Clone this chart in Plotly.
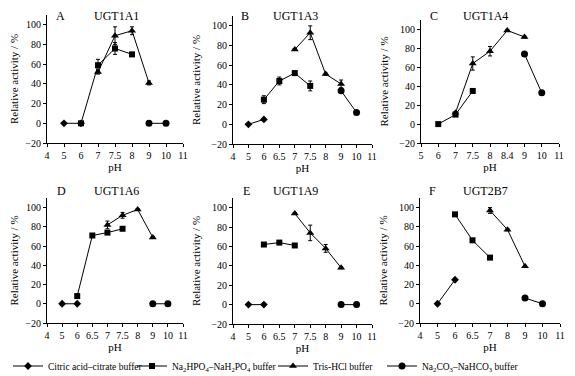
import plotly.graph_objects as go

# page is 575x376; the plot div sits at the page's default 8px body margin
PAGE_W, PAGE_H = 575, 376
OFF = 8
W, H = PAGE_W - OFF, PAGE_H - OFF

# ---------------- data ----------------
# categories (pH tick labels) per panel
cats_A = ["4", "5", "6", "7", "7.5", "8", "9", "10", "11"]
cats_B = ["4", "5", "6", "6.5", "7", "7.5", "8", "9", "10", "11"]
cats_C = ["5", "6", "7", "7.5", "8", "8.4", "9", "10", "11"]
cats_D = ["4", "5", "6", "6.5", "7", "7.5", "8", "9", "10", "11"]
cats_E = ["4", "5", "6", "6.5", "7", "7.5", "8", "9", "10", "11"]
cats_F = ["4", "5", "6", "6.5", "7", "8", "9", "10", "11"]

# UGT1A1
A_cit_x, A_cit_y = ["5", "6"], [0, 0]
A_pho_x, A_pho_y, A_pho_e = ["6", "7", "7.5", "8"], [0, 59, 76, 70], [0, 6, 6, 2]
A_tri_x, A_tri_y, A_tri_e = ["7", "7.5", "8", "9"], [52, 89, 94, 41], [2, 9, 4, 2]
A_car_x, A_car_y = ["9", "10"], [0, 0]
# UGT1A3
B_cit_x, B_cit_y = ["5", "6"], [0, 5]
B_pho_x, B_pho_y, B_pho_e = ["6", "6.5", "7", "7.5"], [25, 44, 52, 39], [4, 4, 2, 5]
B_tri_x, B_tri_y, B_tri_e = ["7", "7.5", "8", "9"], [76, 93, 51, 41], [1, 7, 1, 4]
B_car_x, B_car_y = ["9", "10"], [34, 12]
# UGT1A4
C_pho_x, C_pho_y, C_pho_e = ["6", "7", "7.5"], [0, 10, 35], [1, 1, 1]
C_tri_x, C_tri_y, C_tri_e = ["7", "7.5", "8", "8.4", "9"], [12, 64, 77, 99, 92], [1, 7, 5, 1, 1]
C_car_x, C_car_y = ["9", "10"], [74, 33]
# UGT1A6
D_cit_x, D_cit_y = ["5", "6"], [0, 0]
D_pho_x, D_pho_y, D_pho_e = ["6", "6.5", "7", "7.5"], [8, 71, 74, 78], [1, 1, 2, 1]
D_tri_x, D_tri_y, D_tri_e = ["7", "7.5", "8", "9"], [82, 92, 98, 69], [4, 3, 1, 1]
D_car_x, D_car_y = ["9", "10"], [0, 0]
# UGT1A9
E_cit_x, E_cit_y = ["5", "6"], [0, 0]
E_pho_x, E_pho_y, E_pho_e = ["6", "6.5", "7"], [62, 64, 61], [1, 1, 1]
E_tri_x, E_tri_y, E_tri_e = ["7", "7.5", "8", "9"], [94, 74, 58, 38], [1, 8, 4, 1]
E_car_x, E_car_y = ["9", "10"], [0, 0]
# UGT2B7
F_cit_x, F_cit_y = ["5", "6"], [0, 25]
F_pho_x, F_pho_y, F_pho_e = ["6", "6.5", "7"], [93, 66, 48], [1, 1, 1]
F_tri_x, F_tri_y, F_tri_e = ["7", "8", "9"], [97, 77, 39], [3, 1, 1]
F_car_x, F_car_y = ["9", "10"], [6, 0]

panel_letters = ["A", "B", "C", "D", "E", "F"]
panel_names = ["UGT1A1", "UGT1A3", "UGT1A4", "UGT1A6", "UGT1A9", "UGT2B7"]
legend_names = [
    "Citric acid–citrate buffer",
    "Na<sub>2</sub>HPO<sub>4</sub>–NaH<sub>2</sub>PO<sub>4</sub> buffer",
    "Tris-HCl buffer",
    "Na<sub>2</sub>CO<sub>3</sub>–NaHCO<sub>3</sub> buffer",
]

FONT = "Liberation Serif, Times New Roman, serif"


def px(x):
    return (x - OFF) / W


def py(y):
    return 1 - (y - OFF) / H


# page-pixel layout of panels: (x0, x1, ytop, ybottom)
boxes = [
    (47, 183, 15, 143),
    (233, 372, 16, 144),
    (421, 559, 20, 143),
    (47, 183, 198, 323),
    (233, 372, 198, 324),
    (420, 560, 198, 323),
]
cats_all = [cats_A, cats_B, cats_C, cats_D, cats_E, cats_F]

panels = [
    [(A_cit_x, A_cit_y, None), (A_pho_x, A_pho_y, A_pho_e), (A_tri_x, A_tri_y, A_tri_e), (A_car_x, A_car_y, None)],
    [(B_cit_x, B_cit_y, None), (B_pho_x, B_pho_y, B_pho_e), (B_tri_x, B_tri_y, B_tri_e), (B_car_x, B_car_y, None)],
    [None, (C_pho_x, C_pho_y, C_pho_e), (C_tri_x, C_tri_y, C_tri_e), (C_car_x, C_car_y, None)],
    [(D_cit_x, D_cit_y, None), (D_pho_x, D_pho_y, D_pho_e), (D_tri_x, D_tri_y, D_tri_e), (D_car_x, D_car_y, None)],
    [(E_cit_x, E_cit_y, None), (E_pho_x, E_pho_y, E_pho_e), (E_tri_x, E_tri_y, E_tri_e), (E_car_x, E_car_y, None)],
    [(F_cit_x, F_cit_y, None), (F_pho_x, F_pho_y, F_pho_e), (F_tri_x, F_tri_y, F_tri_e), (F_car_x, F_car_y, None)],
]

symbols = ["diamond", "square", "triangle-up", "circle"]
msizes = [6, 6, 7, 7]
legend_ids = ["legend", "legend2", "legend3", "legend4"]
legend_left = [8, 132, 273, 382]   # page px of each legend entry's box

fig = go.Figure()
shown = [False] * 4

for p, series in enumerate(panels):
    ax = "" if p == 0 else str(p + 1)
    for s, ser in enumerate(series):
        if ser is None:
            continue
        xs, ys, es = ser
        tr = dict(
            x=xs, y=ys, mode="lines+markers",
            line=dict(color="black", width=1),
            marker=dict(symbol=symbols[s], size=msizes[s], color="black"),
            name=legend_names[s], legendgroup=str(s), legend=legend_ids[s],
            showlegend=not shown[s],
            xaxis="x" + ax, yaxis="y" + ax,
        )
        if es is not None:
            tr["error_y"] = dict(type="data", array=es, visible=True,
                                 color="black", thickness=1, width=2)
        fig.add_trace(go.Scatter(**tr))
        shown[s] = True

layout = dict(
    width=W, height=H, margin=dict(l=0, r=0, t=0, b=0, autoexpand=False),
    paper_bgcolor="white", plot_bgcolor="white",
    font=dict(family=FONT, color="black"),
    showlegend=True,
)
for s in range(4):
    layout[legend_ids[s]] = dict(
        orientation="h", x=px(legend_left[s]), y=py(366), xanchor="left", yanchor="middle",
        font=dict(size=9.5, family=FONT), itemwidth=30, bgcolor="rgba(0,0,0,0)",
    )

annotations = []
for p in range(6):
    x0, x1, yt, yb = boxes[p]
    ax = "" if p == 0 else str(p + 1)
    cats = cats_all[p]
    layout["xaxis" + ax] = dict(
        domain=[px(x0), px(x1)], anchor="y" + ax, type="category",
        categoryorder="array", categoryarray=cats,
        range=[0, len(cats) - 1], showgrid=False, zeroline=False,
        showline=True, linecolor="black", linewidth=1,
        ticks="outside", ticklen=3, tickcolor="black",
        tickfont=dict(size=10, family=FONT), automargin=False,
        title=dict(text="pH", font=dict(size=11, family=FONT), standoff=2),
    )
    layout["yaxis" + ax] = dict(
        domain=[py(yb), py(yt)], anchor="x" + ax,
        range=[-20, 110], dtick=20, tick0=-20, showgrid=False, zeroline=False,
        showline=True, linecolor="black", linewidth=1,
        ticks="outside", ticklen=3, tickcolor="black",
        tickfont=dict(size=10, family=FONT), automargin=False,
        title=dict(text="Relative activity / %", font=dict(size=11, family=FONT), standoff=8),
    )
    lx = [55, 240, 429, 56, 242, 428][p]
    nx = [93, 272, 462, 93, 272, 462][p]
    if p < 3:
        ty, yanc = 1.0, "top"
    else:
        ty, yanc = py(191), "middle"
    for txt, xx in ((panel_letters[p], lx), (panel_names[p], nx)):
        annotations.append(dict(text=txt, x=px(xx), y=ty, xref="paper", yref="paper",
                                xanchor="left", yanchor=yanc, showarrow=False, borderpad=0,
                                font=dict(size=12, family=FONT)))
layout["annotations"] = annotations
fig.update_layout(**layout)
fig.write_html("out.html")
